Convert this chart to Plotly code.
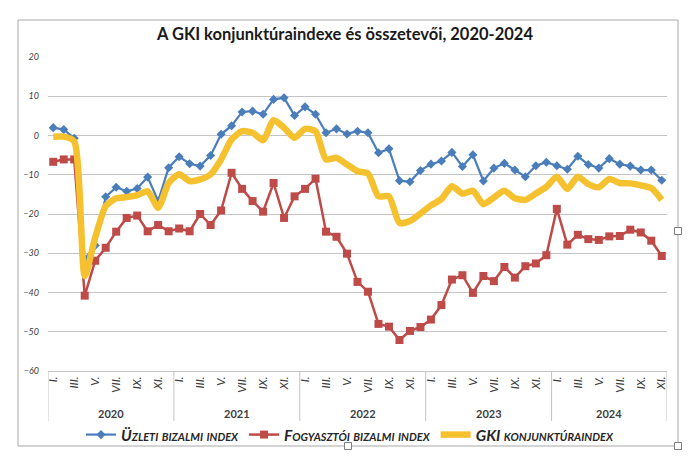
import plotly.graph_objects as go

# ---------------- data ----------------
years = [2020, 2021, 2022, 2023, 2024]
month_labels = ["I.", "II.", "III.", "IV.", "V.", "VI.", "VII.", "VIII.", "IX.", "X.", "XI.", "XII."]
months_in_year = [12, 12, 12, 12, 11]

uzleti = [2.0, 1.5, -0.7, -31.5, -28.0, -15.6, -13.2, -14.2, -13.5, -10.6, -16.7, -8.2,
          -5.4, -7.2, -7.8, -5.1, 0.3, 2.5, 6.0, 6.2, 5.4, 9.2, 9.6, 5.1,
          7.3, 5.4, 0.7, 1.7, 0.4, 1.1, 0.7, -4.4, -3.4, -11.5, -11.8, -8.9,
          -7.3, -6.5, -4.3, -7.9, -4.9, -11.6, -8.3, -7.1, -8.8, -10.5, -7.7, -6.8,
          -7.7, -8.6, -5.3, -7.4, -8.3, -5.9, -7.3, -7.8, -8.8, -8.8, -11.4]

fogyasztoi = [-6.7, -6.1, -6.1, -40.8, -31.9, -28.6, -24.5, -21.0, -20.4, -24.4, -22.8, -24.4,
              -23.7, -24.4, -20.0, -22.8, -19.1, -9.5, -13.6, -16.7, -19.4, -12.1, -21.0, -15.5,
              -13.6, -11.0, -24.5, -25.8, -30.1, -37.3, -39.8, -48.0, -48.7, -52.1, -49.8, -48.8,
              -46.9, -43.2, -36.7, -35.6, -40.1, -35.8, -37.1, -33.5, -36.2, -33.3, -32.6, -30.5,
              -18.7, -27.8, -25.3, -26.4, -26.6, -25.7, -25.6, -24.0, -24.7, -26.8, -30.7]

gki = [-0.3, -0.3, -1.5, -35.8, -26.0, -18.0, -16.0, -15.7, -15.2, -14.2, -18.4, -12.1,
       -9.9, -11.6, -11.2, -9.9, -6.1, -1.0, 1.1, 0.7, -1.2, 3.9, 2.0, -0.6,
       1.7, 1.1, -6.1, -5.7, -7.4, -9.1, -9.7, -15.5, -15.5, -22.3, -21.8, -19.9,
       -17.8, -16.2, -12.9, -14.8, -14.1, -17.5, -15.8, -14.1, -16.0, -16.4, -14.8, -13.1,
       -10.5, -13.6, -10.5, -12.4, -13.2, -11.1, -12.1, -12.2, -12.7, -13.4, -16.4]

series_names = ["Üzleti bizalmi index", "Fogyasztói bizalmi index", "GKI konjunktúraindex"]
title_text = "A GKI konjunktúraindexe és összetevői, 2020-2024"

# ---------------- derived ----------------
x_idx = []
x_month = []
x_year = []
year_start = []
k = 0
for y, nm in zip(years, months_in_year):
    year_start.append(k)
    for m in range(nm):
        x_idx.append(k)
        x_month.append(m)
        x_year.append(y)
        k += 1
n = len(x_idx)
hover = [f"{y} {month_labels[m]}" for y, m in zip(x_year, x_month)]

tickvals = [j for j, m in zip(x_idx, x_month) if m % 2 == 0]
ticktext = [month_labels[m] for m in x_month if m % 2 == 0]

FONT = "Lato"
BLUE = "#4a7ebb"
RED = "#be4b48"
YELLOW = "#f5c12e"
GRID = "#c4c4c4"

fig = go.Figure()
fig.add_trace(go.Scatter(x=x_idx, y=uzleti, name=series_names[0], mode="lines+markers",
                         line=dict(color=BLUE, width=2.2),
                         marker=dict(symbol="diamond", size=7, color=BLUE),
                         text=hover))
fig.add_trace(go.Scatter(x=x_idx, y=fogyasztoi, name=series_names[1], mode="lines+markers",
                         line=dict(color=RED, width=2.5),
                         marker=dict(symbol="square", size=8, color=RED),
                         text=hover))
fig.add_trace(go.Scatter(x=x_idx, y=gki, name=series_names[2], mode="lines",
                         line=dict(color=YELLOW, width=6.5, shape="spline", smoothing=0.6),
                         text=hover))

# plot-area geometry (pixels) for paper conversions
L, R, T, B = 48, 23, 57, 89
W, H = 690, 460
pw, ph = W - L - R, H - T - B


def px2paper_x(px):
    return (px - L) / pw


def px2paper_y(py):
    return (H - B - py) / ph


shapes = []
# year dividers
bounds = year_start + [n]
for b in bounds:
    shapes.append(dict(type="line", xref="x", yref="paper", x0=b - 0.5, x1=b - 0.5,
                       y0=0, y1=px2paper_y(421), line=dict(color=GRID, width=1)))
# outer chart frame
shapes.append(dict(type="rect", xref="paper", yref="paper",
                   x0=px2paper_x(18), x1=px2paper_x(678), y0=px2paper_y(446), y1=px2paper_y(20),
                   line=dict(color="#a8a8a8", width=1), fillcolor="rgba(0,0,0,0)", layer="below"))
# selection handles
for hx, hy in [(678, 231), (348, 446), (678, 446)]:
    shapes.append(dict(type="rect", xref="paper", yref="paper",
                       x0=px2paper_x(hx - 3.5), x1=px2paper_x(hx + 3.5),
                       y0=px2paper_y(hy + 3.5), y1=px2paper_y(hy - 3.5),
                       line=dict(color="#7f7f7f", width=1), fillcolor="white"))

annotations = []
for y, s, nm in zip(years, year_start, months_in_year):
    annotations.append(dict(xref="x", yref="paper", x=s + (nm - 1) / 2, y=px2paper_y(413),
                            text=str(y), showarrow=False, yanchor="middle",
                            font=dict(family=FONT, size=11, color="#404040", weight="bold")))

fig.update_layout(
    width=W, height=H, autosize=False,
    margin=dict(l=L, r=R, t=T, b=B, autoexpand=False),
    paper_bgcolor="white", plot_bgcolor="white",
    font=dict(family=FONT, color="#404040"),
    title=dict(text=title_text, xref="container", x=0.5, xanchor="center",
               y=1 - 34 / H, yanchor="middle",
               font=dict(family=FONT, size=16.5, color="#1a1a1a", weight="bold")),
    showlegend=True,
    legend=dict(orientation="h", xref="paper", x=px2paper_x(350), xanchor="center",
                yref="paper", y=px2paper_y(435), yanchor="middle",
                font=dict(family=FONT, size=15.5, color="#262626", style="italic",
                          variant="small-caps", weight="bold"),
                itemwidth=30, tracegroupgap=0, bgcolor="rgba(0,0,0,0)"),
    shapes=shapes,
    annotations=annotations,
    hovermode="closest",
)

fig.update_xaxes(range=[-0.5, n - 0.5], tickmode="array", tickvals=tickvals, ticktext=ticktext,
                 tickangle=-90, showgrid=False, zeroline=False, showline=True,
                 linecolor=GRID, linewidth=1, ticks="",
                 tickfont=dict(family=FONT, size=11.5, color="#404040", style="italic"))
fig.update_yaxes(range=[-60, 20], dtick=10, tick0=0, showgrid=True, gridcolor=GRID, gridwidth=1,
                 zeroline=False, showline=False, ticks="", ticklabelstandoff=8,
                 tickfont=dict(family=FONT, size=9, color="#404040", style="italic"))

fig.write_html("out.html")
